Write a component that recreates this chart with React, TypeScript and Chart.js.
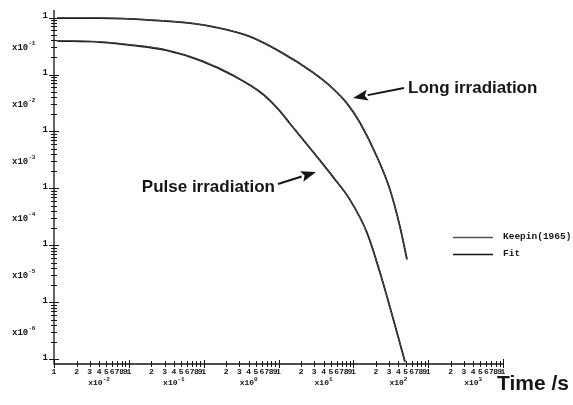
import React, { useEffect, useRef } from 'react';
import { Chart, registerables } from 'chart.js';

Chart.register(...registerables);

// ---- data ----
const longTime = [0.011, 0.0412, 0.192, 0.656, 1.507, 4.16, 10.47, 28.9, 48.8, 82.3, 122.7, 207, 309, 420, 521];
const longKeepin = [1.0, 0.988, 0.911, 0.801, 0.668, 0.464, 0.253, 0.108, 0.0628, 0.031, 0.0141, 0.00357, 0.00094, 0.000211, 5.57e-5];
const longFit = [0.975, 0.972, 0.902, 0.794, 0.664, 0.461, 0.252, 0.1085, 0.063, 0.0312, 0.0142, 0.0036, 0.00095, 0.000213, 5.7e-5];

const pulseTime = [0.011, 0.0412, 0.1137, 0.3235, 0.893, 2.466, 6.21, 10.47, 14.26, 32.7, 53.4, 90.3, 152.5, 227.5, 383.6, 490];
const pulseKeepin = [0.395, 0.376, 0.33, 0.269, 0.18, 0.098, 0.0455, 0.0229, 0.0138, 0.00357, 0.00159, 0.00063, 0.000166, 3.3e-5, 2.92e-6, 9.1e-7];
const pulseFit = [0.388, 0.37, 0.325, 0.265, 0.177, 0.0965, 0.045, 0.0227, 0.0137, 0.0036, 0.0016, 0.000632, 0.000167, 3.32e-5, 2.95e-6, 9.1e-7];

const seriesLabels = ['Keepin(1965)', 'Fit'];
const xDecadeExps = [-2, -1, 0, 1, 2, 3];
const yDecadeExps = [-1, -2, -3, -4, -5, -6];
const minorDigits = ['2', '3', '4', '5', '6', '7', '8', '9', '1'];
const annotationLong = 'Long irradiation';
const annotationPulse = 'Pulse irradiation';
const xTitle = 'Time /s';

const X_MIN = 0.01;
const X_MAX = 10000;
const Y_MIN = Math.pow(10, -6.079);
const Y_MAX = Math.pow(10, 0.1316);

const MONO = "'Liberation Mono', 'DejaVu Sans Mono', monospace";
const SANS = "'Liberation Sans', Arial, sans-serif";
const INK = '#161616';

function pts(xs: number[], ys: number[]) {
  return xs.map((x, i) => ({ x, y: ys[i] }));
}

function drawX10(ctx: CanvasRenderingContext2D, exp: string, x: number, y: number, align: 'left' | 'center', size: number) {
  ctx.font = `bold ${size}px ${MONO}`;
  const base = 'x10';
  const wb = ctx.measureText(base).width;
  const es = Math.round(size * 0.7);
  ctx.font = `bold ${es}px ${MONO}`;
  const we = ctx.measureText(exp).width;
  const total = wb + we;
  const x0 = align === 'center' ? x - total / 2 : x;
  ctx.textAlign = 'left';
  ctx.textBaseline = 'middle';
  ctx.font = `bold ${size}px ${MONO}`;
  ctx.fillText(base, x0, y);
  ctx.font = `bold ${es}px ${MONO}`;
  ctx.fillText(exp, x0 + wb, y - size * 0.45);
}

function arrow(ctx: CanvasRenderingContext2D, x1: number, y1: number, x2: number, y2: number) {
  const ang = Math.atan2(y2 - y1, x2 - x1);
  const hl = 15;
  const hw = 5.5;
  const bx = x2 - hl * Math.cos(ang);
  const by = y2 - hl * Math.sin(ang);
  ctx.beginPath();
  ctx.moveTo(x1, y1);
  ctx.lineTo(bx, by);
  ctx.lineWidth = 2;
  ctx.stroke();
  ctx.beginPath();
  ctx.moveTo(x2, y2);
  ctx.lineTo(bx + hw * Math.sin(ang), by - hw * Math.cos(ang));
  ctx.lineTo(bx + 3 * Math.cos(ang), by + 3 * Math.sin(ang));
  ctx.lineTo(bx - hw * Math.sin(ang), by + hw * Math.cos(ang));
  ctx.closePath();
  ctx.fill();
}

const paperPlugin = {
  id: 'paperAxes',
  afterDatasetsDraw(chart: any) {
    const { ctx, chartArea, scales } = chart;
    const xs = scales.x;
    const ys = scales.y;
    const ax = chartArea.left;
    const ay = chartArea.bottom;
    const xEnd = xs.getPixelForValue(X_MAX);
    ctx.save();
    ctx.strokeStyle = INK;
    ctx.fillStyle = INK;
    ctx.lineWidth = 1.3;

    // axis lines
    ctx.beginPath();
    ctx.moveTo(ax, chartArea.top);
    ctx.lineTo(ax, ay);
    ctx.lineTo(xEnd, ay);
    ctx.stroke();

    // y ticks
    ctx.lineWidth = 1;
    for (let e = -6; e <= 0; e++) {
      for (let k = 1; k <= 9; k++) {
        if (e === 0 && k > 1) break;
        const v = k * Math.pow(10, e);
        const py = Math.round(ys.getPixelForValue(v)) + 0.5;
        const len = k === 1 ? 5 : 3;
        ctx.beginPath();
        ctx.moveTo(ax - len, py);
        ctx.lineTo(ax + len, py);
        ctx.stroke();
      }
    }
    // y labels
    ctx.font = `bold 9px ${MONO}`;
    ctx.textAlign = 'right';
    ctx.textBaseline = 'middle';
    for (let e = -6; e <= 0; e++) {
      const py = ys.getPixelForValue(Math.pow(10, e));
      ctx.fillText('1', ax - 6, py - 2);
    }
    yDecadeExps.forEach((e) => {
      const py = ys.getPixelForValue(3 * Math.pow(10, e));
      drawX10(ctx, String(e), 12, py, 'left', 9);
    });

    // x ticks
    for (let e = -2; e <= 3; e++) {
      for (let k = 1; k <= 9; k++) {
        const v = k * Math.pow(10, e);
        const px = Math.round(xs.getPixelForValue(v)) + 0.5;
        const len = k === 1 ? 4 : 3;
        ctx.beginPath();
        ctx.moveTo(px, ay - len);
        ctx.lineTo(px, ay + len);
        ctx.stroke();
      }
    }
    {
      const px = Math.round(xEnd) + 0.5;
      ctx.beginPath();
      ctx.moveTo(px, ay - 5);
      ctx.lineTo(px, ay + 4);
      ctx.stroke();
    }
    // x labels
    ctx.font = `bold 8px ${MONO}`;
    ctx.textAlign = 'center';
    ctx.textBaseline = 'middle';
    ctx.fillText('1', xs.getPixelForValue(X_MIN), ay + 8);
    xDecadeExps.forEach((e) => {
      minorDigits.forEach((d, i) => {
        const v = (i + 2) * Math.pow(10, e);
        ctx.font = `bold 8px ${MONO}`;
        ctx.textAlign = 'center';
        ctx.textBaseline = 'middle';
        ctx.fillText(d, xs.getPixelForValue(v), ay + 8);
      });
      drawX10(ctx, String(e), xs.getPixelForValue(4 * Math.pow(10, e)), ay + 19, 'center', 8);
    });

    // axis title
    ctx.font = `bold 21px ${SANS}`;
    ctx.textAlign = 'left';
    ctx.textBaseline = 'middle';
    ctx.fillText(xTitle, 497, 384);

    // annotations
    ctx.font = `bold 17px ${SANS}`;
    ctx.textAlign = 'left';
    ctx.fillText(annotationLong, 408, 88);
    arrow(ctx, 404, 88, 353, 98);
    ctx.textAlign = 'right';
    ctx.fillText(annotationPulse, 275, 187);
    arrow(ctx, 278, 184, 316, 172);

    // legend
    const dsets = chart.data.datasets;
    const legendRows = [
      { label: seriesLabels[0], ds: dsets[0], y: 237 },
      { label: seriesLabels[1], ds: dsets[1], y: 254 },
    ];
    legendRows.forEach((r) => {
      ctx.strokeStyle = r.ds.borderColor;
      ctx.lineWidth = 1.3;
      ctx.setLineDash([]);
      ctx.beginPath();
      ctx.moveTo(453, r.y + 0.5);
      ctx.lineTo(493, r.y + 0.5);
      ctx.stroke();
      ctx.fillStyle = INK;
      ctx.font = `bold 9.5px ${MONO}`;
      ctx.textAlign = 'left';
      ctx.textBaseline = 'middle';
      ctx.fillText(r.label, 503, r.y);
    });
    ctx.restore();
  },
};

export default function App() {
  const ref = useRef<HTMLCanvasElement | null>(null);
  useEffect(() => {
    if (!ref.current) return;
    const keepinStyle = {
      borderColor: '#555555',
      borderWidth: 1.2,
      borderDash: [2, 1],
      pointRadius: 0,
      cubicInterpolationMode: 'monotone' as const,
      fill: false,
    };
    const fitStyle = {
      borderColor: '#111111',
      borderWidth: 1.8,
      pointRadius: 0,
      cubicInterpolationMode: 'monotone' as const,
      fill: false,
    };
    const chart = new Chart(ref.current, {
      type: 'line',
      data: {
        datasets: [
          { label: seriesLabels[0], data: pts(longTime, longKeepin), ...keepinStyle, order: 0 },
          { label: seriesLabels[1], data: pts(longTime, longFit), ...fitStyle, order: 1 },
          { label: seriesLabels[0] + ' pulse', data: pts(pulseTime, pulseKeepin), ...keepinStyle, order: 0 },
          { label: seriesLabels[1] + ' pulse', data: pts(pulseTime, pulseFit), ...fitStyle, order: 1 },
        ],
      },
      options: {
        animation: false,
        responsive: false,
        devicePixelRatio: 1,
        layout: { padding: { left: 54, right: 70, top: 10, bottom: 41 } },
        scales: {
          x: { type: 'logarithmic', min: X_MIN, max: X_MAX, display: false },
          y: { type: 'logarithmic', min: Y_MIN, max: Y_MAX, display: false },
        },
        plugins: { legend: { display: false }, tooltip: { enabled: false } },
      },
      plugins: [paperPlugin],
    });
    return () => chart.destroy();
  }, []);
  return (
    <div style={{ position: 'fixed', left: 0, top: 0, width: 573, height: 405, background: '#fff' }}>
      <canvas ref={ref} width={573} height={405} style={{ display: 'block' }} />
    </div>
  );
}
